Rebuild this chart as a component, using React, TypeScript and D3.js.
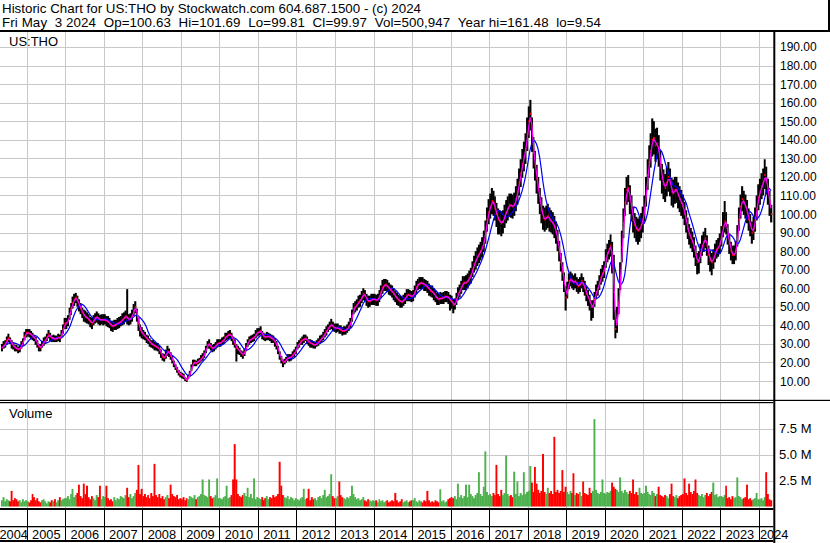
import * as d3 from 'd3';

// Semi-monthly bars (1st and 16th of each month), May 2004 .. May 3 2024
const FIRST_YEAR = 2004;
const FIRST_HALF = 8; // May 1st is half-month no. 8 of the year
const LAST_DAY = new Date(2024, 4, 3);

const CLOSE = [
  28, 29, 30, 32, 33, 32, 30, 29, 28, 27.5, 27, 27.5, 29, 31, 34, 36,
  36, 35.5, 35, 34, 33.5, 32, 30, 28.5, 28, 29.5, 31, 32, 33.5, 35, 34, 33, 33, 32.5, 33, 33.5, 33, 35, 38, 41,
  41, 42.5, 46, 49, 52, 54, 55, 53, 51, 49, 47, 45.5, 44.5, 44, 43, 42, 41, 42.5, 44, 44.5, 43.5, 43, 43, 43,
  43, 42.5, 42, 41, 40, 39.5, 40, 40.5, 41, 41.5, 42, 43, 44, 45, 44, 43, 43.5, 45, 48, 50, 46, 41, 37.5, 36,
  35, 34, 33, 32, 31, 30, 29.5, 29, 28.5, 28, 27, 25, 23, 22.5, 24, 26, 25.5, 23.5, 21.5, 19.5, 17.5, 16, 14.5, 13.5,
  13, 12.5, 11, 10.5, 12, 14, 17, 19.5, 20, 19.5, 20.5, 21, 22, 23, 24.5, 27, 29.5, 30, 28.5, 27.5, 28, 29, 30, 30.5,
  30.5, 31.5, 32, 33.5, 34, 35, 35, 34, 32, 30, 28, 27, 26, 25, 24, 25.5, 28, 30.5, 32, 32.5, 33, 33.5, 35, 36,
  36.5, 37, 35, 34, 33.5, 34, 34, 33.5, 33, 32.5, 31, 29.5, 27, 24, 21.5, 20, 20.5, 21.5, 22.5, 22.5, 23, 24, 25, 26.5,
  29, 30, 31.5, 32, 32.5, 33, 32, 31, 30.5, 30, 29.5, 29.5, 30, 31, 32, 33, 34, 35.5, 37, 38.5, 39.5, 40.5, 39.5, 38.5,
  38.5, 38.5, 38, 37.5, 37, 37, 37.5, 38, 39.5, 41, 45, 49, 50, 51, 52.5, 53.5, 55, 57, 56, 54, 53, 53, 54, 54,
  54, 53.5, 54, 55.5, 58, 60.5, 61.5, 62, 61, 60, 59, 58, 57, 55.5, 54.5, 53.5, 53, 52.5, 53.5, 54.5, 56, 56.5, 56, 55.5,
  56, 58, 60.5, 62, 62.5, 63, 62.5, 62, 61.5, 60.5, 59.5, 58.5, 58, 57, 55.5, 54.5, 54, 54.5, 54.5, 55, 55.5, 55.5, 55, 53.5,
  53, 51, 51.5, 54, 57, 58.5, 60.5, 62.5, 63, 63, 64, 65.5, 67, 70, 73, 75, 77, 78.5, 80, 82, 85, 90, 97, 101,
  104, 107, 106, 103, 100, 97, 96, 95, 96, 99, 101, 103, 105, 104.5, 104, 105, 108, 112, 117, 122, 127, 131, 135, 143,
  150, 154, 143, 133, 126, 119, 113, 107, 102, 98, 97, 98, 99, 97, 96, 95, 93, 90, 86, 80, 74, 69, 64, 55,
  59, 64, 65, 64, 63, 64, 62, 61, 62, 64, 62, 60, 57, 55, 53, 50, 50, 54, 58, 60, 63, 66, 68, 70,
  76, 79, 81, 83, 77, 58, 38, 42, 52, 66, 82, 95, 106, 113, 114, 108, 103, 97, 94, 92, 91, 92, 94, 97,
  103, 112, 121, 128, 134, 140, 141, 137, 138, 134, 126, 119, 116, 114, 117, 120, 117, 112, 111, 113, 113, 110, 108, 106,
  104, 100, 96, 92, 89, 87, 85, 82, 78, 74, 75, 79, 83, 85, 87, 83, 78, 75, 74, 76, 79, 81, 82, 84,
  88, 93, 96, 95, 89, 84, 80, 78, 78, 80, 88, 97, 104, 108, 106, 104, 101, 97, 94, 90, 92, 97, 103, 109,
  112, 115, 117, 121, 118, 112, 106, 99.97,
];

// distance from close up to the bar high, $
const BAR_UP = [
  2, 2.5, 2, 2, 2.5, 1.5, 2, 2, 1.5, 2, 1.5, 2, 2.5, 2, 2.5, 2,
  2, 2.5, 2, 2, 1.5, 2, 2, 1.5, 2, 2, 2.5, 2, 2, 2.5, 2, 1.5, 2, 2, 1.5, 2, 2, 2.5, 2.5, 3,
  3, 3, 3.5, 3, 3.5, 3, 2.5, 3, 3, 3, 2.5, 3, 3.5, 3, 3, 2.5, 3, 3, 2.5, 3, 3, 2.5, 3, 3,
  3, 2.5, 3, 3, 2.5, 3, 3, 2.5, 3, 3, 3, 3.5, 3, 3, 15.5, 3, 3, 3.5, 3.5, 3, 3, 3, 3, 3,
  2.5, 2.5, 2, 2.5, 2, 2, 2.5, 2, 2, 2.5, 2, 2, 2, 2, 3, 3, 2, 2, 2, 1.5, 1.5, 1.5, 1.5, 1.5,
  1.5, 1.5, 1, 1, 1.5, 1.5, 2, 2, 1.5, 1.5, 1.5, 1.5, 2, 2, 2, 2, 2, 2.5, 2, 2, 2, 2, 2.5, 2,
  2, 2, 2, 2.5, 2, 2, 2.5, 2, 2, 2.5, 2, 2, 2, 1.5, 2, 2, 2.5, 2, 2, 2, 2, 2, 2.5, 2.5,
  2, 2.5, 2, 2, 2, 2.5, 2, 2, 2, 2, 2, 2, 2, 2, 2, 1.5, 1.5, 1.5, 2, 2, 1.5, 2, 2, 2,
  2, 2, 1.5, 2, 2.5, 2, 2, 1.5, 2, 2, 2, 1.5, 2, 2, 2.5, 2, 2.5, 2.5, 2.5, 2, 2.5, 3, 2.5, 2.5,
  2.5, 2.5, 2, 2.5, 2, 2.5, 2, 2.5, 2.5, 3, 3.5, 3, 3, 3, 3.5, 3, 3.5, 3, 3, 3, 3, 3, 3, 3,
  3, 3, 3, 3.5, 3.5, 4, 3.5, 3, 3.5, 3, 3, 3.5, 3, 3, 3, 3, 3, 3, 3, 3, 3.5, 3, 3, 3,
  3, 3.5, 3.5, 3, 3.5, 3, 3.5, 3, 3, 3.5, 3, 3, 3.5, 3, 3, 3, 3, 3.5, 3, 3, 3, 3, 3, 3,
  3, 3, 3, 3.5, 3.5, 3.5, 3.5, 4, 3.5, 4, 4, 4, 4, 4.5, 4.5, 5, 5, 5, 5, 5.5, 6, 6.5, 6.5, 7,
  7, 7, 6.5, 6.5, 6, 6, 6, 6.5, 6, 6, 6.5, 6.5, 6, 6.5, 6.5, 6.5, 7, 7, 7.5, 7.5, 8, 8, 8.5, 9,
  8, 7.5, 9, 8.5, 8, 7.5, 7, 7, 7, 6.5, 6.5, 6.5, 6.5, 6.5, 6, 6, 6, 6, 5.5, 5.5, 5, 5, 4.5, 6,
  4.5, 4, 4, 4, 4, 4, 4, 4, 4, 4, 4, 4, 4, 4, 3.5, 3.5, 3.5, 4, 4, 4, 4, 4.5, 4.5, 4.5,
  5, 5, 5, 6, 8, 20, 10, 8, 8, 8, 9, 8, 8, 7, 7, 7.5, 7, 7, 6.5, 6.5, 6.5, 6.5, 6.5, 7,
  7, 8, 8.5, 9, 9.5, 11.5, 9, 9, 8.5, 8.5, 8, 8, 8, 7.5, 8, 8, 7.5, 7.5, 7.5, 7, 7, 7, 7, 7,
  6.5, 6.5, 6, 6, 5.5, 5.5, 5.5, 5.5, 5, 5, 5, 5, 5.5, 5.5, 5.5, 5.5, 5, 5, 5, 5, 5, 5, 5, 5.5,
  5.5, 8, 11, 6, 5.5, 5.5, 5, 5, 5, 5.5, 6, 6.5, 6.5, 7, 6.5, 6.5, 6.5, 6, 6, 6, 6.5, 6.5, 7, 7,
  7, 7, 7.5, 8.5, 7.5, 7, 6.5, 5,
];

// distance from close down to the bar low, $
const BAR_DOWN = [
  2, 1.5, 2, 2.5, 2, 2, 2.5, 2, 2, 1.5, 2, 2, 1.5, 2, 2, 2.5,
  2, 2, 2.5, 2, 2, 2.5, 2, 2.5, 2, 1.5, 2, 2, 2, 2, 2.5, 2, 2, 1.5, 2, 2, 2, 2, 2.5, 3,
  3, 3, 3, 3.5, 3, 3.5, 3, 3, 3.5, 3, 3, 3.5, 3, 3, 2.5, 3, 3, 2.5, 3, 3, 3, 3, 2.5, 3,
  2.5, 3, 3, 2.5, 3, 3, 2.5, 3, 3, 3, 2.5, 3, 3.5, 3, 3.5, 3, 3, 3, 3, 3.5, 4, 4, 3.5, 3,
  2.5, 2, 2.5, 2, 2.5, 2, 2, 2.5, 2, 2, 2.5, 2.5, 2, 2, 2, 2.5, 2.5, 2, 2, 2, 1.5, 1.5, 1.5, 1.5,
  1.5, 1.5, 1, 1, 1, 1.5, 1.5, 1.5, 2, 1.5, 1.5, 1.5, 1.5, 2, 2, 2, 2, 2.5, 2, 2, 2, 2, 2, 2,
  2, 2, 2, 2, 2, 2.5, 2, 2.5, 2.5, 2, 7.5, 2.5, 2, 2, 2, 2, 2, 2, 2.5, 2, 2, 2, 2, 2,
  2, 2, 2.5, 2, 2, 2, 2, 2, 2.5, 2, 2.5, 2.5, 2.5, 2.5, 2, 2.5, 1.5, 1.5, 1.5, 2, 2, 1.5, 2, 2,
  2, 2, 2, 2.5, 2, 1.5, 2, 2, 2.5, 2, 2, 2, 1.5, 2, 2, 2, 2, 2, 2.5, 2, 2, 2.5, 2.5, 2,
  2.5, 2, 2.5, 2, 2.5, 2, 2.5, 2, 2.5, 2.5, 3, 3, 3, 3, 3, 3.5, 3, 3.5, 3, 3.5, 3.5, 3, 3, 3,
  3, 3, 3.5, 3, 3, 3.5, 3, 3.5, 3, 3.5, 3, 3, 3.5, 3, 3.5, 3, 3.5, 3, 3, 3, 3, 3.5, 3, 3,
  3, 3, 3.5, 3, 3, 3.5, 3, 3.5, 3, 3, 3.5, 3, 3, 3.5, 3, 3.5, 3, 3, 3, 3.5, 3, 3, 3.5, 5.5,
  4, 4.5, 3, 3, 3.5, 3.5, 3.5, 3.5, 4, 4, 4, 4, 4.5, 4, 4.5, 5, 5, 5, 5, 5.5, 5.5, 6, 6.5, 6.5,
  6.5, 7, 7, 6.5, 7, 8, 7, 7, 6.5, 6.5, 6, 6.5, 6.5, 6.5, 6.5, 6, 6.5, 7, 7, 7.5, 7.5, 8, 8, 9,
  9, 9, 9.5, 8.5, 8, 8, 7.5, 7, 7, 6.5, 6.5, 6.5, 6.5, 6.5, 6, 6, 6, 6, 6, 5.5, 5, 5, 6, 7,
  4.5, 4.5, 4, 4, 4, 4, 4, 4, 4, 4, 4, 4, 4, 4.5, 5, 7.5, 6, 4, 4, 4, 4, 4, 4.5, 4.5,
  5, 5, 5.5, 6, 9, 15, 5, 6, 6, 7, 8, 8, 7, 8, 7.5, 8, 7, 7, 7, 7, 7.5, 7, 7, 7,
  7, 8, 8, 8.5, 9, 9, 9, 9, 8.5, 8.5, 8, 8, 8, 7.5, 7.5, 8, 7.5, 7.5, 7.5, 7.5, 7, 7, 7, 7,
  6.5, 6, 6, 5.5, 5.5, 5.5, 5.5, 5.5, 6, 6.5, 7, 5.5, 5.5, 5.5, 5.5, 5.5, 5.5, 6, 7, 5.5, 5, 5, 5, 5.5,
  5.5, 5.5, 6, 6, 5.5, 5.5, 5, 5, 5, 5, 5.5, 6, 6.5, 6.5, 6.5, 6.5, 6, 6, 6, 6, 6, 6.5, 6.5, 7,
  7, 7, 7, 7.5, 7.5, 7, 7, 4.5,
];

// volume, millions of shares
const VOLUME = [
  0.6, 0.9, 0.5, 0.7, 0.6, 0.5, 1.5, 0.6, 0.8, 0.7, 0.5, 0.6, 0.4, 0.7, 0.5, 0.6,
  0.5, 0.4, 0.6, 1.2, 0.9, 0.6, 0.8, 0.5, 0.4, 0.6, 0.7, 0.5, 0.3, 0.5, 0.4, 0.6, 0.5, 0.7, 0.4, 0.6, 0.9, 0.6, 0.7, 0.8,
  0.8, 1.0, 0.7, 1.2, 1.7, 0.9, 1.1, 1.3, 2.1, 1.0, 0.8, 2.2, 1.2, 2.0, 0.9, 0.7, 1.0, 0.8, 0.6, 1.1, 0.9, 2.0, 0.7, 1.0,
  0.9, 2.0, 0.8, 0.6, 0.7, 0.5, 0.9, 0.6, 0.8, 0.7, 1.0, 0.9, 0.8, 1.1, 1.8, 0.9, 1.2, 0.8, 1.0, 1.3, 1.6, 4.0, 1.2, 1.7,
  1.0, 1.2, 0.9, 1.1, 0.8, 1.3, 1.0, 4.1, 1.1, 0.9, 1.2, 0.8, 1.0, 0.7, 0.9, 1.1, 0.8, 2.1, 1.2, 1.0, 0.9, 1.1, 0.7, 0.8,
  0.7, 0.9, 0.6, 0.8, 0.7, 1.0, 0.9, 0.8, 1.1, 0.7, 0.9, 1.0, 1.2, 2.6, 1.1, 1.0, 0.9, 2.6, 1.0, 0.8, 0.9, 1.1, 2.7, 0.8,
  0.8, 0.7, 0.9, 1.0, 2.0, 0.8, 0.9, 1.1, 2.6, 6.0, 2.6, 1.2, 1.0, 0.9, 1.1, 1.3, 1.0, 1.8, 0.9, 1.2, 0.8, 2.7, 0.7, 0.9,
  0.8, 0.7, 0.9, 0.6, 0.8, 1.0, 0.7, 0.9, 0.8, 1.1, 0.9, 1.0, 1.2, 4.3, 2.0, 1.1, 0.9, 0.8, 1.0, 0.7, 0.9, 0.8, 0.6, 0.8,
  0.7, 0.6, 0.8, 0.9, 1.7, 0.7, 0.8, 1.7, 0.6, 0.9, 0.7, 0.8, 0.6, 0.9, 1.0, 0.8, 1.1, 1.6, 0.9, 1.0, 1.2, 3.1, 1.0, 0.8,
  0.8, 1.0, 2.4, 1.1, 0.9, 0.8, 0.7, 0.9, 0.8, 1.0, 2.0, 1.2, 0.9, 0.7, 0.8, 0.6, 0.7, 0.9, 0.6, 0.5, 0.7, 0.6, 0.5, 0.6,
  0.5, 0.6, 0.4, 0.7, 0.5, 0.6, 0.4, 0.5, 0.6, 0.4, 0.5, 0.6, 0.5, 1.3, 0.6, 0.4, 0.5, 0.7, 0.4, 0.5, 0.6, 0.4, 0.5, 0.6,
  0.6, 0.8, 0.5, 0.4, 0.6, 0.5, 0.4, 0.6, 0.5, 1.5, 0.6, 0.4, 0.5, 0.4, 0.6, 0.5, 0.4, 1.65, 0.5, 0.6, 0.4, 0.5, 0.7, 0.8,
  0.9, 0.8, 1.0, 0.7, 2.2, 0.9, 1.1, 0.8, 1.0, 2.1, 0.9, 2.1, 1.2, 1.0, 0.8, 1.1, 1.3, 3.3, 1.2, 1.0, 1.9, 5.3, 1.4, 1.1,
  1.2, 1.0, 1.3, 1.1, 4.0, 1.2, 1.0, 1.6, 1.1, 1.3, 4.9, 1.2, 1.0, 1.1, 0.9, 3.35, 1.2, 2.4, 1.0, 1.3, 1.1, 3.3, 1.2, 1.4,
  1.5, 3.9, 2.3, 1.4, 3.8, 2.2, 1.6, 1.3, 1.5, 5.05, 1.4, 1.2, 1.8, 1.3, 1.5, 1.2, 6.7, 1.4, 1.6, 1.3, 1.5, 3.5, 1.4, 1.9,
  1.4, 1.2, 1.5, 1.3, 3.2, 1.1, 1.3, 1.2, 1.4, 1.0, 2.4, 1.3, 1.2, 1.1, 1.8, 1.3, 1.5, 8.4, 1.6, 1.3, 1.2, 1.4, 2.6, 1.3,
  1.2, 1.4, 1.3, 1.5, 2.3, 1.9, 1.7, 1.6, 1.4, 2.8, 1.5, 1.3, 1.6, 1.4, 1.2, 1.5, 1.3, 2.6, 1.2, 1.4, 1.1, 1.8, 1.3, 1.2,
  1.3, 2.0, 1.4, 1.2, 1.1, 1.5, 1.3, 1.0, 1.2, 1.9, 1.1, 1.0, 0.9, 1.1, 1.0, 0.8, 1.2, 2.2, 1.0, 0.9, 1.1, 0.8, 1.0, 1.1,
  1.2, 2.7, 1.3, 1.1, 2.2, 1.4, 1.2, 1.5, 2.6, 1.3, 1.1, 1.0, 1.2, 0.9, 1.1, 1.3, 1.0, 1.2, 1.4, 2.3, 1.1, 1.2, 0.9, 1.0,
  1.0, 0.9, 1.1, 2.0, 0.8, 0.9, 0.7, 1.0, 0.8, 0.9, 2.8, 1.0, 0.9, 0.7, 0.8, 0.9, 2.1, 0.7, 0.8, 0.6, 0.7, 0.8, 1.3, 0.7,
  0.7, 0.8, 0.6, 0.9, 3.3, 1.2, 0.7, 0.6,
];

const YEARS = [2004, 2005, 2006, 2007, 2008, 2009, 2010, 2011, 2012, 2013, 2014, 2015, 2016, 2017, 2018, 2019, 2020, 2021, 2022, 2023, 2024];
const PRICE_TICKS = [10, 20, 30, 40, 50, 60, 70, 80, 90, 100, 110, 120, 130, 140, 150, 160, 170, 180, 190];
const VOLUME_TICKS = [2.5, 5, 7.5];

const HEADER_1 = 'Historic Chart for US:THO by Stockwatch.com 604.687.1500 - (c) 2024';
const HEADER_2 = 'Fri May  3 2024  Op=100.63  Hi=101.69  Lo=99.81  Cl=99.97  Vol=500,947  Year hi=161.48  lo=9.54';

const FONT = "'Liberation Sans', Arial, Helvetica, sans-serif";
const GRID = '#c8c8c8';
const PLOT_R = 773.3;

function periodStart(i: number) {
  const h = i + FIRST_HALF;
  return new Date(FIRST_YEAR + Math.floor(h / 24), Math.floor((h % 24) / 2), h % 2 ? 16 : 1);
}

export default function App() {
  const n = CLOSE.length;
  const x = d3.scaleTime().domain([new Date(2004, 0, 1), LAST_DAY]).range([-11.8, 771.9]);
  const y = d3.scaleLinear().domain([0, 200]).range([399.6, 28.4]);
  const yv = d3.scaleLinear().domain([0, 10]).range([506.5, 402.5]);

  const x0 = CLOSE.map((_, i) => x(periodStart(i)));
  const x1 = x0.map((v, i) => (i < n - 1 ? x0[i + 1] : x(LAST_DAY)));
  const mid = x0.map((v, i) => (v + x1[i]) / 2);

  // moving averages of the closes
  const sma = (len: number) =>
    CLOSE.map((_, i) => d3.mean(CLOSE.slice(Math.max(0, i - len + 1), i + 1)) as number);
  const fast = sma(2);
  const slow = sma(8);
  const line = d3.line<number>().x((_, i) => mid[i]).y((v) => y(v));

  const yearX = (yr: number) => x(new Date(yr, 0, 1));

  return (
    <svg width={830} height={543} style={{ position: 'absolute', left: 0, top: 0, display: 'block' }}
      fontFamily={FONT}>
      <defs>
        <clipPath id="plot-price"><rect x={0} y={32} width={PLOT_R} height={368} /></clipPath>
        <clipPath id="plot-vol"><rect x={0} y={403} width={PLOT_R} height={105} /></clipPath>
      </defs>
      <rect width={830} height={543} fill="#fff" />

      {/* header */}
      <text x={2} y={13} fontSize={13.33} fill="#000" textLength={419} lengthAdjust="spacing">{HEADER_1}</text>
      <text x={2} y={27} fontSize={13.33} fill="#000" xmlSpace="preserve" style={{ whiteSpace: 'pre' }}
        textLength={599} lengthAdjust="spacing">{HEADER_2}</text>
      <rect x={0} y={30} width={830} height={2} fill="#000" />
      <rect x={828} y={0} width={2} height={32} fill="#000" />

      {/* grid, price panel */}
      {PRICE_TICKS.map((t) => (
        <line key={'pg' + t} x1={0} x2={PLOT_R} y1={Math.round(y(t)) + 0.5} y2={Math.round(y(t)) + 0.5} stroke={GRID} />
      ))}
      {YEARS.slice(1).map((yr) => (
        <line key={'vg' + yr} x1={Math.round(yearX(yr)) + 0.5} x2={Math.round(yearX(yr)) + 0.5} y1={32} y2={400} stroke={GRID} />
      ))}
      {/* grid, volume panel */}
      {VOLUME_TICKS.map((t) => (
        <line key={'vgh' + t} x1={0} x2={PLOT_R} y1={Math.round(yv(t)) + 0.5} y2={Math.round(yv(t)) + 0.5} stroke={GRID} />
      ))}
      {YEARS.slice(1).map((yr) => (
        <line key={'vvg' + yr} x1={Math.round(yearX(yr)) + 0.5} x2={Math.round(yearX(yr)) + 0.5} y1={403} y2={508} stroke={GRID} />
      ))}

      {/* price bars */}
      <g clipPath="url(#plot-price)">
        {CLOSE.map((c, i) => {
          const top = y(c + BAR_UP[i]);
          const bot = y(c - BAR_DOWN[i]);
          return <rect key={'b' + i} x={x0[i]} y={top} width={x1[i] - x0[i] + 0.4} height={bot - top} fill="#000" />;
        })}
        {CLOSE.map((c, i) => (
          <rect key={'c' + i} x={x1[i] - 1} y={y(c) - 1} width={1.4} height={2} fill="#ff0000" />
        ))}
        <path d={line(slow) || ''} fill="none" stroke="#0000ff" strokeWidth={1.2} />
        <path d={line(fast) || ''} fill="none" stroke="#ff00ff" strokeWidth={1.3} />
      </g>

      {/* volume bars */}
      <g clipPath="url(#plot-vol)">
        {VOLUME.map((v, i) => (
          <rect key={'v' + i} x={x0[i]} y={yv(v)} width={x1[i] - x0[i] + 0.3} height={yv(0) - yv(v)}
            fill={i === 0 || CLOSE[i] >= CLOSE[i - 1] ? '#4cb04c' : '#ff0000'} />
        ))}
      </g>

      <text x={9} y={46} fontSize={13} fill="#000">US:THO</text>
      <text x={9} y={418} fontSize={13} fill="#000">Volume</text>

      {/* panel frames */}
      <rect x={0} y={399.8} width={830} height={1.2} fill="#000" />
      <rect x={0} y={402} width={PLOT_R} height={1.2} fill="#000" />
      <rect x={0} y={508} width={PLOT_R} height={2} fill="#000" />
      <rect x={0} y={526} width={PLOT_R} height={1.3} fill="#000" />
      <rect x={0} y={540} width={PLOT_R} height={2} fill="#000" />
      <rect x={PLOT_R} y={31} width={2} height={512} fill="#000" />

      {/* year dividers and labels */}
      {YEARS.slice(1).map((yr) => (
        <line key={'yd' + yr} x1={Math.round(yearX(yr)) + 0.5} x2={Math.round(yearX(yr)) + 0.5} y1={510} y2={540} stroke="#000" />
      ))}
      {YEARS.map((yr) => {
        const xs = yearX(yr);
        const xe = yearX(yr + 1);
        const c = (Math.max(0, xs) + Math.min(PLOT_R, xe)) / 2;
        const lx = Math.max(xs + 1, c - 14);
        return <text key={'yl' + yr} x={lx} y={539} fontSize={12.8} fill="#000">{yr}</text>;
      })}

      {/* right axis */}
      {PRICE_TICKS.map((t) => (
        <text key={'pl' + t} x={780} y={y(t) + 4.5} fontSize={12} fill="#000">{d3.format('.2f')(t)}</text>
      ))}
      {VOLUME_TICKS.map((t) => (
        <text key={'vl' + t} x={779} y={yv(t) + 4.5} fontSize={13} fill="#000">{d3.format('.1f')(t) + ' M'}</text>
      ))}
    </svg>
  );
}
